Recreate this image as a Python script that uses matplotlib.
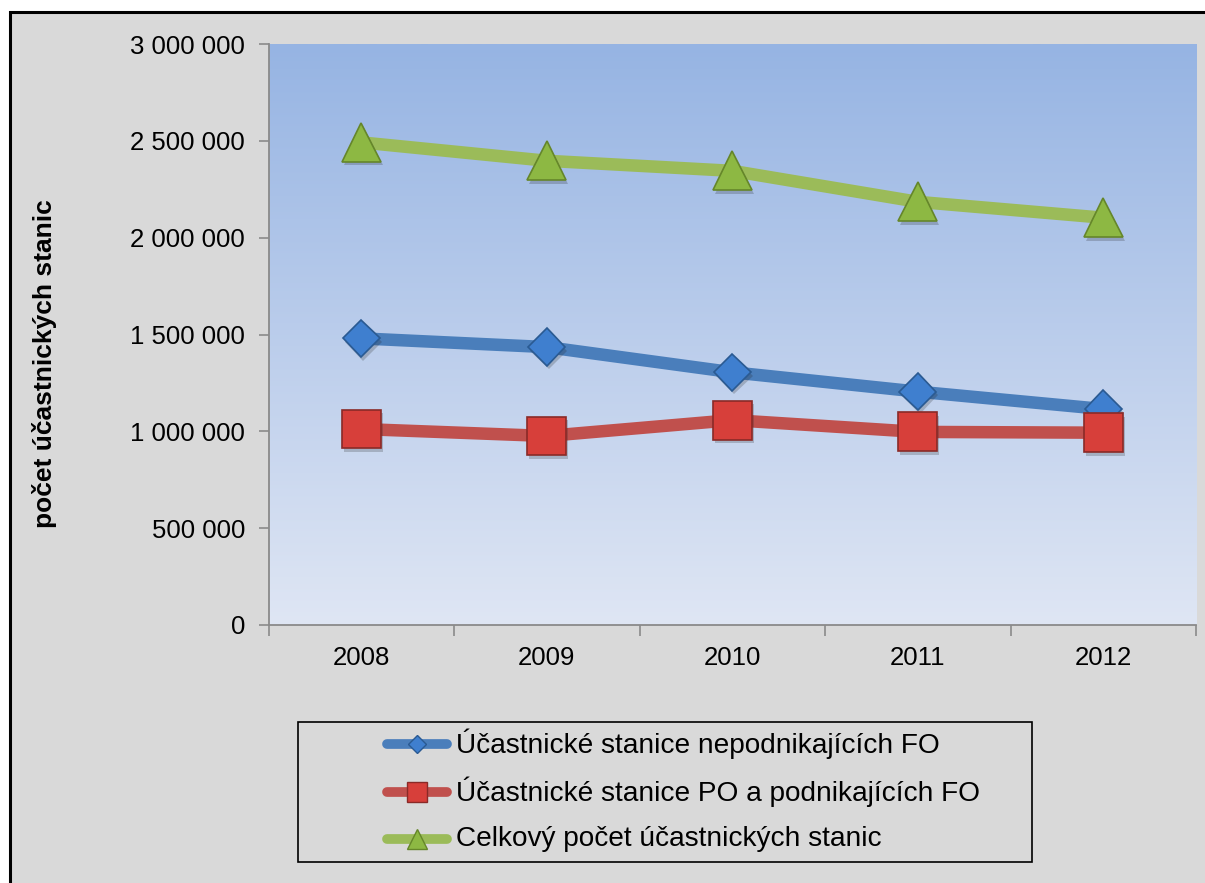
import matplotlib
matplotlib.use("Agg")
import matplotlib.pyplot as plt
import numpy as np
from matplotlib.colors import LinearSegmentedColormap
from matplotlib.patches import Rectangle
from matplotlib.lines import Line2D
from matplotlib import patheffects as pe
from matplotlib.ticker import FuncFormatter, FixedLocator

plt.rcParams['font.family'] = ['Liberation Sans', 'DejaVu Sans']

years = ["2008", "2009", "2010", "2011", "2012"]
nepodnikajici = [1480000, 1435000, 1305000, 1205000, 1115000]
po_podnikajici = [1012000, 976000, 1058000, 997000, 993000]
celkem = [2492000, 2397000, 2345000, 2185000, 2103000]

series_names = ["Účastnické stanice nepodnikajících FO",
                "Účastnické stanice PO a podnikajících FO",
                "Celkový počet účastnických stanic"]
y_label = "počet účastnických stanic"
y_ticks = [0, 500000, 1000000, 1500000, 2000000, 2500000, 3000000]

W, H = 1205, 883
fig = plt.figure(figsize=(W / 100, H / 100), dpi=100, facecolor="white")

# outer gray frame
fig.add_artist(Rectangle((10 / W, -0.05), 1.1, (H - 12) / H + 0.05,
                         transform=fig.transFigure, facecolor="#d9d9d9",
                         edgecolor="black", lw=2.2, zorder=0))

ax = fig.add_axes([268.5 / W, (H - 625) / H, (1196 - 268.5) / W, (625 - 44) / H])
ax.set_facecolor("none")
x = np.arange(len(years))
ax.set_xlim(-0.5, len(years) - 0.5)
ax.set_ylim(0, 3000000)

cmap = LinearSegmentedColormap.from_list("bg", ["#dfe6f4", "#96b4e3"])
grad = np.linspace(0, 1, 256).reshape(-1, 1)
ax.imshow(grad, extent=(-0.5, len(years) - 0.5, 0, 3000000), origin="lower",
          aspect="auto", cmap=cmap, zorder=0)

styles = [
    (nepodnikajici, "#4a7ebb", "D", 19, "#3f7fcf", "#2a5a92"),
    (po_podnikajici, "#c0504d", "s", 28, "#d73f3a", "#8a2a27"),
    (celkem, "#9bbb59", "^", 28, "#8db843", "#65862a"),
]
for vals, lc, mk, ms, fc, ec in styles:
    ax.plot(x, vals, color=lc, lw=9, solid_capstyle="butt", zorder=2)
    ax.plot(x, vals, ls="none", marker=mk, ms=ms, mfc=fc, mec=ec, mew=1.2, zorder=3,
            path_effects=[pe.SimplePatchShadow(offset=(1.5, -2.5), alpha=0.22, shadow_rgbFace="#222222"),
                          pe.Normal()])

for s in ["top", "right"]:
    ax.spines[s].set_visible(False)
for s in ["left", "bottom"]:
    ax.spines[s].set_color("#8a8a8a")
    ax.spines[s].set_linewidth(1.3)

ax.yaxis.set_major_locator(FixedLocator(y_ticks))
ax.yaxis.set_major_formatter(FuncFormatter(lambda v, p: f"{v:,.0f}".replace(",", " ")))
ax.tick_params(axis="y", direction="out", length=7, width=1.2, color="#8a8a8a",
               pad=10, labelsize=18.5, labelcolor="black")
ax.set_xticks(x)
ax.set_xticklabels(years)
ax.set_xticks(np.arange(-0.5, len(years)), minor=True)
ax.tick_params(axis="x", which="major", length=0, pad=15, labelsize=18.5, labelcolor="black")
ax.tick_params(axis="x", which="minor", direction="out", length=8, width=1.2, color="#8a8a8a")

fig.text(45 / W, 1 - 364 / H, y_label, rotation=90, ha="center", va="center",
         fontsize=19, fontweight="bold")

# legend box
fig.add_artist(Rectangle((298 / W, 1 - 862 / H), (1032 - 298) / W, (862 - 722) / H,
                         transform=fig.transFigure, facecolor="none",
                         edgecolor="black", lw=1.2, zorder=1))
rows = [744, 792, 839]
leg_ms = [9.5, 14.5, 15]
for (vals, lc, mk, ms, fc, ec), name, yy, lms in zip(styles, series_names, rows, leg_ms):
    fy = 1 - yy / H
    fig.add_artist(Line2D([387 / W, 447 / W], [fy, fy], transform=fig.transFigure,
                          color=lc, lw=7, solid_capstyle="round"))
    fig.add_artist(Line2D([417 / W], [fy], transform=fig.transFigure, ls="none",
                          marker=mk, ms=lms, mfc=fc, mec=ec, mew=1))
    fig.text(456 / W, fy, name, ha="left", va="center", fontsize=20.2)

fig.savefig("out.png", dpi=100, facecolor=fig.get_facecolor())
